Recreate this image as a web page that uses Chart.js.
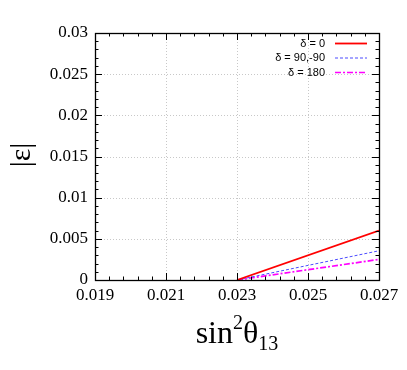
<!DOCTYPE html>
<html>
<head>
<meta charset="utf-8">
<script src="https://cdn.jsdelivr.net/npm/chart.js@4/dist/chart.umd.min.js"></script>
<style>
  html, body { margin:0; padding:0; background:#fff; }
  #wrap { width:407px; height:370px; }
</style>
</head>
<body>
<div id="wrap"><canvas id="c" width="407" height="370"></canvas></div>
<script>
// data
const xValues = [0.023, 0.027];
const redVals = [0, 0.006];
const blueVals = [0, 0.00355];
const magentaVals = [0, 0.0025];
const seriesLabels = ['δ = 0', 'δ = 90,-90', 'δ = 180'];
const xTicks = [0.019, 0.021, 0.023, 0.025, 0.027];
const yTicks = [0, 0.005, 0.01, 0.015, 0.02, 0.025, 0.03];
const xMinorStep = 0.0004;
const yMinorStep = 0.001;

const SERIF = '"Liberation Serif", "DejaVu Serif", serif';
const SANS = '"Liberation Sans", Arial, sans-serif';

function pts(vals){ return vals.map((v,i)=>({ x: xValues[i], y: v })); }

// grid, frame, inward ticks, legend and axis titles
const framePlugin = {
  id: 'frame',
  beforeDatasetsDraw(chart){
    const { ctx, chartArea: a, scales: { x, y } } = chart;
    ctx.save();
    ctx.strokeStyle = '#c8c8c8'; ctx.lineWidth = 1; ctx.setLineDash([1,2]);
    xTicks.forEach(v => { const px = Math.round(x.getPixelForValue(v)) + 0.5; ctx.beginPath(); ctx.moveTo(px, a.top); ctx.lineTo(px, a.bottom); ctx.stroke(); });
    yTicks.forEach(v => { const py = Math.round(y.getPixelForValue(v)) + 0.5; ctx.beginPath(); ctx.moveTo(a.left, py); ctx.lineTo(a.right, py); ctx.stroke(); });
    ctx.restore();
  },
  afterDatasetsDraw(chart){
    const { ctx, chartArea: a, scales: { x, y } } = chart;
    ctx.save();
    ctx.strokeStyle = '#000'; ctx.lineWidth = 1.3; ctx.setLineDash([]);
    ctx.strokeRect(Math.round(a.left)+0.5, Math.round(a.top)+0.5, Math.round(a.right-a.left), Math.round(a.bottom-a.top));
    ctx.lineWidth = 1;
    const isMajor = (v, list) => list.some(t => Math.abs(t - v) < 1e-7);
    // x ticks (bottom + top)
    for (let i = 0; ; i++) {
      const v = x.min + i * xMinorStep; if (v > x.max + 1e-9) break;
      const len = isMajor(v, xTicks) ? 7 : 3.5;
      const px = Math.round(x.getPixelForValue(v)) + 0.5;
      ctx.beginPath(); ctx.moveTo(px, a.bottom); ctx.lineTo(px, a.bottom - len); ctx.moveTo(px, a.top); ctx.lineTo(px, a.top + len); ctx.stroke();
    }
    // y ticks (left + right)
    for (let i = 0; ; i++) {
      const v = y.min + i * yMinorStep; if (v > y.max + 1e-9) break;
      const len = isMajor(v, yTicks) ? 7 : 3.5;
      const py = Math.round(y.getPixelForValue(v)) + 0.5;
      ctx.beginPath(); ctx.moveTo(a.left, py); ctx.lineTo(a.left + len, py); ctx.moveTo(a.right, py); ctx.lineTo(a.right - len, py); ctx.stroke();
    }
    // legend
    ctx.font = '11px ' + SANS; ctx.textAlign = 'right'; ctx.textBaseline = 'middle'; ctx.fillStyle = '#000';
    chart.data.datasets.forEach((ds, i) => {
      const ly = 43.5 + i * 14.5;
      ctx.fillText(ds.label, 325, ly);
      ctx.strokeStyle = ds.borderColor; ctx.lineWidth = ds.borderWidth; ctx.setLineDash(ds.borderDash || []);
      ctx.beginPath(); ctx.moveTo(335, ly); ctx.lineTo(367, ly); ctx.stroke();
    });
    ctx.setLineDash([]);
    // x title: sin^2 theta_13
    const cx = (a.left + a.right) / 2, base = 343;
    const big = '32px ' + SERIF, small = '20px ' + SERIF;
    ctx.textBaseline = 'alphabetic'; ctx.textAlign = 'left';
    ctx.font = big; const w1 = ctx.measureText('sin').width, w3 = ctx.measureText('θ').width;
    ctx.font = small; const w2 = ctx.measureText('2').width, w4 = ctx.measureText('13').width;
    let sx = cx - (w1 + w2 + w3 + w4) / 2;
    ctx.font = big; ctx.fillText('sin', sx, base); sx += w1;
    ctx.font = small; ctx.fillText('2', sx, base - 14); sx += w2;
    ctx.font = big; ctx.fillText('θ', sx, base); sx += w3;
    ctx.font = small; ctx.fillText('13', sx, base + 7);
    // y title |ε|
    ctx.save();
    ctx.translate(22, 155); ctx.rotate(-Math.PI / 2);
    ctx.font = '30px ' + SERIF; ctx.textAlign = 'center'; ctx.textBaseline = 'middle';
    ctx.fillText('|ε|', 0, 0);
    ctx.restore();
    ctx.restore();
  }
};

new Chart(document.getElementById('c'), {
  type: 'scatter',
  data: {
    datasets: [
      { label: seriesLabels[0], data: pts(redVals), showLine: true, borderColor: '#ff0000', borderWidth: 1.8, pointRadius: 0 },
      { label: seriesLabels[1], data: pts(blueVals), showLine: true, borderColor: '#4a4aff', borderWidth: 1, borderDash: [3,2], pointRadius: 0 },
      { label: seriesLabels[2], data: pts(magentaVals), showLine: true, borderColor: '#ff00ff', borderWidth: 1.7, borderDash: [6,2,2,2], pointRadius: 0 }
    ]
  },
  options: {
    responsive: false, animation: false,
    layout: { padding: { left: 0, right: 28, top: 33, bottom: 0 } },
    plugins: { legend: { display: false }, tooltip: { enabled: false } },
    scales: {
      x: {
        type: 'linear', min: 0.019, max: 0.027,
        afterBuildTicks: s => { s.ticks = xTicks.map(v => ({ value: v })); },
        afterFit: s => { s.height = 90; },
        grid: { display: false, drawTicks: false }, border: { display: false },
        ticks: { padding: 5, color: '#000', font: { family: SERIF, size: 17 }, maxRotation: 0, autoSkip: false, callback: v => v.toFixed(3) }
      },
      y: {
        type: 'linear', min: 0, max: 0.03,
        afterBuildTicks: s => { s.ticks = yTicks.map(v => ({ value: v })); },
        afterFit: s => { s.width = 95; },
        grid: { display: false, drawTicks: false }, border: { display: false },
        ticks: { padding: 7, color: '#000', font: { family: SERIF, size: 17 }, autoSkip: false, callback: v => String(parseFloat(v.toFixed(3))) }
      }
    }
  },
  plugins: [framePlugin]
});
</script>
</body>
</html>
